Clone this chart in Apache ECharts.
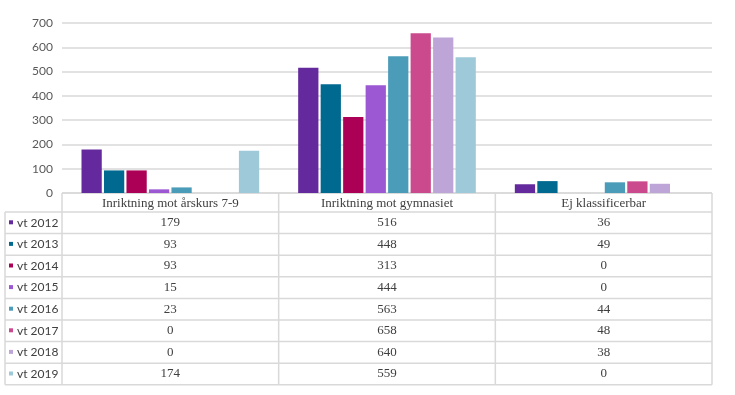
<!DOCTYPE html>
<html>
<head>
<meta charset="utf-8">
<script src="https://cdn.jsdelivr.net/npm/echarts@6/dist/echarts.min.js"></script>
<style>
html,body{margin:0;padding:0;background:#fff;}
#chart{width:735px;height:395px;}
</style>
</head>
<body>
<div id="chart"></div>
<script>
const categories = ['Inriktning mot årskurs 7-9', 'Inriktning mot gymnasiet', 'Ej klassificerbar'];
const seriesNames = ['vt 2012', 'vt 2013', 'vt 2014', 'vt 2015', 'vt 2016', 'vt 2017', 'vt 2018', 'vt 2019'];
const vt2012 = [179, 516, 36];
const vt2013 = [93, 448, 49];
const vt2014 = [93, 313, 0];
const vt2015 = [15, 444, 0];
const vt2016 = [23, 563, 44];
const vt2017 = [0, 658, 48];
const vt2018 = [0, 640, 38];
const vt2019 = [174, 559, 0];
const yTicks = [0, 100, 200, 300, 400, 500, 600, 700];
const colors = ['#64299c', '#00698f', '#ac0057', '#9c57d3', '#4b9cb8', '#cb4a8e', '#bea5d8', '#9ec9d9'];

const seriesValues = [vt2012, vt2013, vt2014, vt2015, vt2016, vt2017, vt2018, vt2019];

const gridLeft = 62, gridRight = 712, gridTop = 23, axisBottom = 193;
const W = 735, H = 395;
const headerBottom = 212, rowH = 21.6, tableLeft = 5;
const lineColor = '#d9d9d9';
const serif = '"Liberation Serif", serif';
const sans = 'Lato, sans-serif';

const chart = echarts.init(document.getElementById('chart'), null, {renderer: 'canvas'});

const colW = (gridRight - gridLeft) / categories.length;
const graphics = [];
const tableBottom = headerBottom + rowH * seriesNames.length;

graphics.push({type: 'line', shape: {x1: gridLeft, y1: axisBottom, x2: gridRight, y2: axisBottom}, style: {stroke: lineColor, lineWidth: 1.5}});
for (let i = 0; i <= seriesNames.length; i++) {
  const y = headerBottom + rowH * i;
  graphics.push({type: 'line', shape: {x1: tableLeft, y1: y, x2: gridRight, y2: y}, style: {stroke: lineColor, lineWidth: 1.5}});
}
for (let c = 0; c <= categories.length; c++) {
  const x = gridLeft + colW * c;
  graphics.push({type: 'line', shape: {x1: x, y1: axisBottom, x2: x, y2: tableBottom}, style: {stroke: lineColor, lineWidth: 1.5}});
}
graphics.push({type: 'line', shape: {x1: tableLeft, y1: headerBottom, x2: tableLeft, y2: tableBottom}, style: {stroke: lineColor, lineWidth: 1.5}});

categories.forEach((cat, c) => {
  graphics.push({type: 'text', x: gridLeft + colW * (c + 0.5), y: (axisBottom + headerBottom) / 2 + 1,
    style: {text: cat, fill: '#404040', font: '13px ' + serif, textAlign: 'center', textVerticalAlign: 'middle'}});
});
seriesNames.forEach((name, i) => {
  const yc = headerBottom + rowH * (i + 0.5);
  graphics.push({type: 'rect', shape: {x: 9, y: yc - 2.5, width: 4, height: 4}, style: {fill: colors[i]}});
  graphics.push({type: 'text', x: 17, y: yc, style: {text: name, fill: '#404040', font: '12px ' + sans, textAlign: 'left', textVerticalAlign: 'middle'}});
  seriesValues[i].forEach((v, c) => {
    graphics.push({type: 'text', x: gridLeft + colW * (c + 0.5), y: yc,
      style: {text: String(v), fill: '#404040', font: '13px ' + serif, textAlign: 'center', textVerticalAlign: 'middle'}});
  });
});

chart.setOption({
  animation: false,
  color: colors,
  grid: {left: gridLeft, right: W - gridRight, top: gridTop, bottom: H - axisBottom, containLabel: false},
  xAxis: {
    type: 'category', data: categories,
    axisLine: {show: false}, axisTick: {show: false}, axisLabel: {show: false}
  },
  yAxis: {
    type: 'value', min: 0, max: 700, interval: 100,
    axisLine: {show: false}, axisTick: {show: false},
    axisLabel: {color: '#595959', fontSize: 12, fontFamily: sans, margin: 9,
      formatter: v => yTicks.includes(v) ? String(v) : ''},
    splitLine: {lineStyle: {color: lineColor, width: 1.5}}
  },
  series: seriesNames.map((name, i) => ({
    name: name, type: 'bar', data: seriesValues[i],
    barGap: '11%', barCategoryGap: '18%',
    itemStyle: {color: colors[i]}
  })),
  graphic: graphics
});
</script>
</body>
</html>
